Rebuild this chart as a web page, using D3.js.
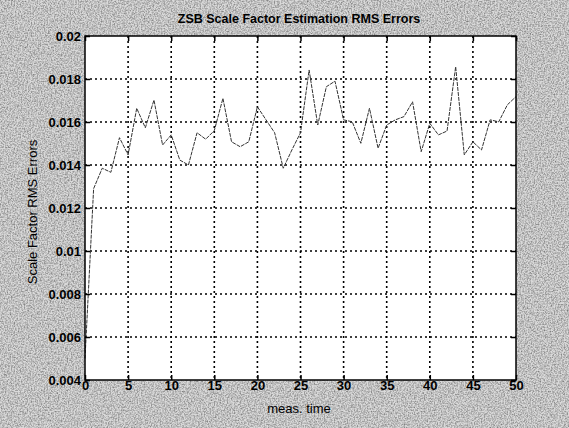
<!DOCTYPE html>
<html>
<head>
<meta charset="utf-8">
<script src="https://cdn.jsdelivr.net/npm/d3@7"></script>
<style>
  body { margin: 0; background: #c8c8c8; }
  text { font-family: "Liberation Sans", Arial, sans-serif; fill: #000; }
</style>
</head>
<body>
<svg id="chart" width="569" height="428"></svg>
<script>
// values
var measTime = d3.range(0, 51);
var rmsErrors = [
    0.0050, 0.0129, 0.01385, 0.01366, 0.01527, 0.01447, 0.01664, 0.01573, 0.01702, 0.01493,
    0.0154, 0.01423, 0.0140, 0.0155, 0.0152, 0.0156, 0.0171, 0.01508, 0.01485, 0.01508,
    0.01671, 0.0161, 0.0155, 0.01385, 0.0147, 0.0155, 0.01842, 0.01586, 0.01764, 0.0179,
    0.0161, 0.01601, 0.01501, 0.01664, 0.01478, 0.01586, 0.0161, 0.01625, 0.01694, 0.01462,
    0.01594, 0.0154, 0.01558, 0.01857, 0.01447, 0.01508, 0.0147, 0.0161, 0.01601, 0.0168,
    0.01718
];
var xTicks = [0, 5, 10, 15, 20, 25, 30, 35, 40, 45, 50];
var yTicks = [0.004, 0.006, 0.008, 0.01, 0.012, 0.014, 0.016, 0.018, 0.02];

var W = 569, H = 428;
var plotL = 85, plotR = 516, plotT = 36, plotB = 380;

var svg = d3.select("#chart");

// grainy grey scan background
var defs = svg.append("defs");
var f = defs.append("filter").attr("id", "grain")
    .attr("x", 0).attr("y", 0).attr("width", "100%").attr("height", "100%");
f.append("feTurbulence").attr("type", "fractalNoise")
    .attr("baseFrequency", 0.7).attr("numOctaves", 3).attr("seed", 4);
f.append("feColorMatrix").attr("type", "matrix")
    .attr("values", "0 0 0 0 0  0 0 0 0 0  0 0 0 0 0  0 0 0 -0.8 0.52");
svg.append("rect").attr("width", W).attr("height", H).attr("fill", "#dadada");
svg.append("rect").attr("width", W).attr("height", H).attr("filter", "url(#grain)");

var x = d3.scaleLinear().domain([0, 50]).range([plotL, plotR]);
var y = d3.scaleLinear().domain([0.004, 0.02]).range([plotB, plotT]);

svg.append("rect")
    .attr("x", plotL).attr("y", plotT)
    .attr("width", plotR - plotL).attr("height", plotB - plotT)
    .attr("fill", "#fff");

// dotted grid
svg.append("g").selectAll("line")
    .data(xTicks.slice(1, -1))
    .join("line")
    .attr("x1", function(d) { return x(d); })
    .attr("x2", function(d) { return x(d); })
    .attr("y1", plotT).attr("y2", plotB)
    .attr("stroke", "#000").attr("stroke-width", 1.6)
    .attr("stroke-dasharray", "2,3");

svg.append("g").selectAll("line")
    .data(yTicks.slice(1, -1))
    .join("line")
    .attr("y1", function(d) { return y(d); })
    .attr("y2", function(d) { return y(d); })
    .attr("x1", plotL).attr("x2", plotR)
    .attr("stroke", "#000").attr("stroke-width", 1.6)
    .attr("stroke-dasharray", "2,3");

// error curve
var line = d3.line()
    .x(function(d, i) { return x(measTime[i]); })
    .y(function(d) { return y(d); });

svg.append("path")
    .datum(rmsErrors)
    .attr("d", line)
    .attr("fill", "none")
    .attr("stroke", "#333")
    .attr("stroke-width", 1)
    .attr("stroke-dasharray", "4,1");

// axes (MATLAB style, ticks inside)
svg.append("g")
    .attr("transform", "translate(0," + plotB + ")")
    .call(d3.axisTop(x).tickValues(xTicks).tickSize(5).tickFormat(d3.format("d")))
    .call(function(g) {
        g.select(".domain").remove();
        g.selectAll("line").attr("stroke-width", 1.5);
        g.selectAll("text").attr("y", 1).attr("dy", "0.71em")
            .style("font-size", "13px").style("font-weight", "bold").attr("fill", "#000");
    });

svg.append("g")
    .attr("transform", "translate(" + plotL + ",0)")
    .call(d3.axisRight(y).tickValues(yTicks).tickSize(5).tickFormat(function(d) { return d3.format("~g")(d); }))
    .call(function(g) {
        g.select(".domain").remove();
        g.selectAll("line").attr("stroke-width", 1.5);
        g.selectAll("text").attr("x", -4).attr("text-anchor", "end")
            .style("font-size", "13px").style("font-weight", "bold").attr("fill", "#000");
    });

svg.append("g")
    .attr("transform", "translate(0," + plotT + ")")
    .call(d3.axisBottom(x).tickValues(xTicks).tickSize(5).tickFormat(""))
    .call(function(g) { g.select(".domain").remove(); g.selectAll("line").attr("stroke-width", 1.5); });

svg.append("g")
    .attr("transform", "translate(" + plotR + ",0)")
    .call(d3.axisLeft(y).tickValues(yTicks).tickSize(5).tickFormat(""))
    .call(function(g) { g.select(".domain").remove(); g.selectAll("line").attr("stroke-width", 1.5); });

svg.append("rect")
    .attr("x", plotL).attr("y", plotT)
    .attr("width", plotR - plotL).attr("height", plotB - plotT)
    .attr("fill", "none").attr("stroke", "#000").attr("stroke-width", 1.5);

// labels
svg.append("text")
    .attr("x", 299).attr("y", 23)
    .attr("text-anchor", "middle")
    .style("font-size", "12.5px").style("font-weight", "bold")
    .text("ZSB Scale Factor Estimation RMS Errors");

svg.append("text")
    .attr("x", 299).attr("y", 413)
    .attr("text-anchor", "middle")
    .style("font-size", "13px")
    .text("meas. time");

svg.append("text")
    .attr("transform", "translate(37,212) rotate(-90)")
    .attr("text-anchor", "middle")
    .style("font-size", "13px")
    .text("Scale Factor RMS Errors");
</script>
</body>
</html>
